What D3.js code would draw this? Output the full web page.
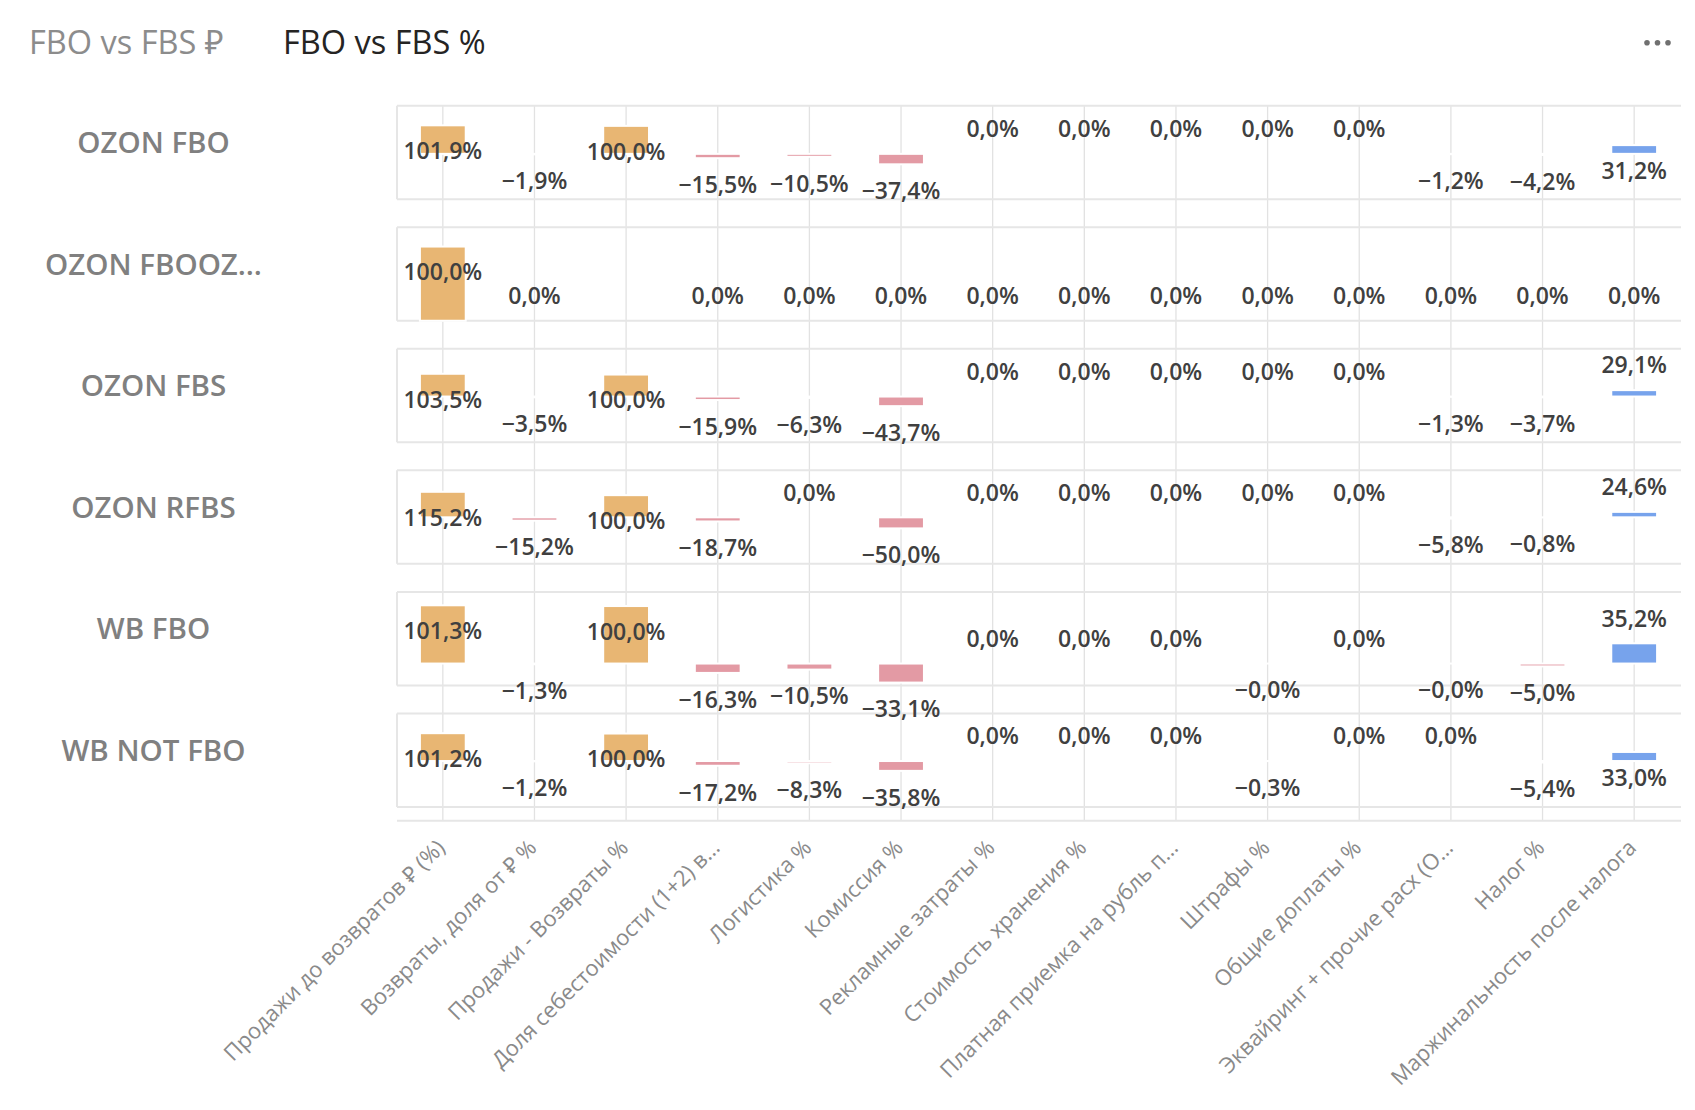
<!DOCTYPE html>
<html><head><meta charset="utf-8">
<script src="https://cdn.jsdelivr.net/npm/d3@7"></script>
<style>
html,body{margin:0;padding:0;background:#fff;}
svg{display:block;}
</style></head><body>
<svg id="chart" width="1695" height="1110"></svg>
<script>
// ---------- data ----------
const tabLabels = ["FBO vs FBS ₽", "FBO vs FBS %"];
const categories = [
  "Продажи до возвратов ₽ (%)",
  "Возвраты, доля от ₽ %",
  "Продажи - Возвраты %",
  "Доля себестоимости (1+2) в…",
  "Логистика %",
  "Комиссия %",
  "Рекламные затраты %",
  "Стоимость хранения %",
  "Платная приемка на рубль п…",
  "Штрафы %",
  "Общие доплаты %",
  "Эквайринг + прочие расх (О…",
  "Налог %",
  "Маржинальность после налога"
];
const rowNames = ["OZON FBO", "OZON FBOOZ…", "OZON FBS", "OZON RFBS", "WB FBO", "WB NOT FBO"];
const ozonFbo   = [101.9, -1.9, 100.0, -15.5, -10.5, -37.4, 0, 0, 0, 0, 0, -1.2, -4.2, 31.2];
const ozonFbooz = [100.0, 0, null, 0, 0, 0, 0, 0, 0, 0, 0, 0, 0, 0];
const ozonFbs   = [103.5, -3.5, 100.0, -15.9, -6.3, -43.7, 0, 0, 0, 0, 0, -1.3, -3.7, 29.1];
const ozonRfbs  = [115.2, -15.2, 100.0, -18.7, 0, -50.0, 0, 0, 0, 0, 0, -5.8, -0.8, 24.6];
const wbFbo     = [101.3, -1.3, 100.0, -16.3, -10.5, -33.1, 0, 0, 0, -0.01, 0, -0.01, -5.0, 35.2];
const wbNotFbo  = [101.2, -1.2, 100.0, -17.2, -8.3, -35.8, 0, 0, 0, -0.3, 0, 0, -5.4, 33.0];
const seriesValues = [ozonFbo, ozonFbooz, ozonFbs, ozonRfbs, wbFbo, wbNotFbo];
// independent value-axis range of each small multiple (axes hidden)
const yDomains = [[-162, 172], [0, 126], [-208, 217], [-210, 212], [-38, 124.6], [-167, 173]];

// ---------- layout ----------
const svg = d3.select("#chart");
const plotLeft = 397, plotRight = 1680;
const panelTop0 = 105.7, rowStep = 121.55, panelH = 93.5, axisY = 820.7;
const COLORS = {pos: "#E8B673", neg: "#E39AA4", total: "#77A3EC"};
const FONT = "'Open Sans', 'Noto Sans', sans-serif";

const x = d3.scaleBand().domain(categories).range([plotLeft, plotRight]).paddingInner(0.5).paddingOuter(0.25);
const cx = c => x(c) + x.bandwidth() / 2;

function fmt(v) {
  const s = Math.abs(v).toFixed(1).replace(".", ",") + "%";
  return (v < 0 ? "\u2212" : "") + s;
}

// tabs
svg.append("text").attr("x", 29).attr("y", 54).attr("font-family", FONT).attr("font-size", 32.5)
  .attr("fill", "#8c8c8c").text(tabLabels[0]);
svg.append("text").attr("x", 283).attr("y", 54).attr("font-family", FONT).attr("font-size", 32.5)
  .attr("fill", "#252423").text(tabLabels[1]);
// more-options dots
svg.append("g").selectAll("circle").data([0, 1, 2]).join("circle")
  .attr("cx", d => 1647 + d * 10.5).attr("cy", 42.7).attr("r", 2.8).attr("fill", "#707070");

// vertical gridlines
svg.append("g").selectAll("line").data(categories).join("line")
  .attr("x1", cx).attr("x2", cx).attr("y1", panelTop0).attr("y2", axisY)
  .attr("stroke", "#e2e2e2").attr("stroke-width", 1.3);

// x axis base line
svg.append("line").attr("x1", plotLeft).attr("x2", plotRight + 1).attr("y1", axisY).attr("y2", axisY)
  .attr("stroke", "#e6e6e6").attr("stroke-width", 2);

// x-axis labels
svg.append("g").selectAll("text").data(categories).join("text")
  .attr("transform", c => `translate(${cx(c) - 2},${axisY + 23}) rotate(-45)`)
  .attr("text-anchor", "end").attr("dy", "0.35em")
  .attr("font-family", FONT).attr("font-size", 22).attr("fill", "#8a8a8a")
  .text(c => c);

const barLayer = svg.append("g");
const labelLayer = svg.append("g");

// panels
seriesValues.forEach((vals, i) => {
  const top = panelTop0 + i * rowStep, bottom = top + panelH;
  const y = d3.scaleLinear().domain(yDomains[i]).range([bottom, top]);
  const g = barLayer.append("g");
  // borders
  g.append("line").attr("x1", plotLeft).attr("x2", plotRight + 1).attr("y1", top).attr("y2", top)
    .attr("stroke", "#e6e6e6").attr("stroke-width", 2);
  g.append("line").attr("x1", plotLeft).attr("x2", plotRight + 1).attr("y1", bottom).attr("y2", bottom)
    .attr("stroke", "#e6e6e6").attr("stroke-width", 2);
  g.append("line").attr("x1", plotLeft).attr("x2", plotLeft).attr("y1", top).attr("y2", bottom)
    .attr("stroke", "#e6e6e6").attr("stroke-width", 2);
  // row header
  g.append("text").attr("x", 153.5).attr("y", top + panelH / 2 - 10).attr("dy", "0.36em")
    .attr("text-anchor", "middle").attr("font-family", FONT).attr("font-size", 29.5)
    .attr("font-weight", 600).attr("fill", "#808080").text(rowNames[i]);

  const data = vals.map((v, j) => ({c: categories[j], v, j})).filter(d => d.v !== null);
  // bars
  g.selectAll("rect").data(data.filter(d => d.v !== 0)).join("rect")
    .attr("x", d => x(d.c)).attr("width", x.bandwidth())
    .attr("y", d => Math.min(y(d.v), y(0))).attr("height", d => Math.abs(y(d.v) - y(0)))
    .attr("fill", d => d.j === categories.length - 1 ? COLORS.total : (d.v > 0 ? COLORS.pos : COLORS.neg))
    .attr("stroke", "#fff").attr("stroke-width", 2);
  // value labels (top layer)
  labelLayer.append("g").selectAll("text").data(data).join("text")
    .attr("x", d => cx(d.c))
    .attr("y", d => {
      if (d.v < 0) return y(d.v) + 26.5;
      const outside = y(d.v) - 25;
      return (outside - 15.5 < top) ? y(d.v) + 25.5 : outside;
    })
    .attr("dy", "0.36em").attr("text-anchor", "middle")
    .attr("font-family", FONT).attr("font-size", 23).attr("font-weight", 600).attr("fill", "#404040")
    .text(d => fmt(d.v));
});
</script>
</body></html>
